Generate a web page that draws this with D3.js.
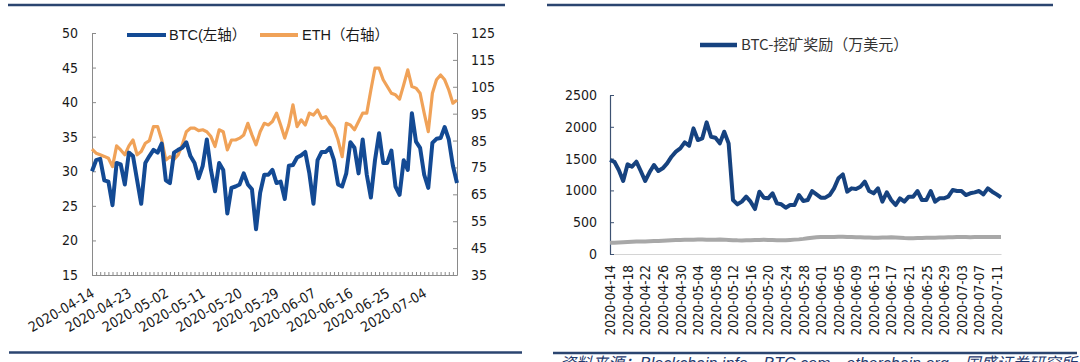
<!DOCTYPE html>
<html>
<head>
<meta charset="utf-8">
<script src="https://cdn.jsdelivr.net/npm/d3@7"></script>
<style>
  body { margin: 0; background: #fff; }
  svg { display: block; }
</style>
</head>
<body>
<div id="chart"></div>
<script>
// ---- data ----
var startDate = "2020-04-14";

// left chart: daily values, 2020-04-14 .. 2020-07-12
var btcValues = [30.0, 31.6, 31.8, 28.7, 28.5, 25.1, 31.2, 31.0, 28.1, 32.7,
  32.2, 28.7, 25.3, 31.2, 32.2, 33.1, 32.7, 34.0, 28.7, 28.3,
  32.7, 33.1, 33.4, 34.2, 32.2, 31.2, 29.0, 30.8, 34.6, 30.2,
  27.1, 31.2, 30.2, 23.9, 27.6, 27.8, 28.1, 29.7, 28.1, 27.4,
  21.6, 26.9, 29.5, 29.5, 30.2, 28.3, 28.5, 26.0, 30.8, 30.9,
  32.0, 32.3, 32.8, 29.7, 25.3, 31.6, 32.8, 32.8, 33.4, 31.6,
  28.1, 27.8, 29.7, 34.2, 33.4, 29.7, 34.6, 29.5, 26.2, 31.6,
  35.5, 31.2, 31.2, 33.0, 27.8, 26.6, 31.6, 30.2, 38.4, 34.3,
  33.4, 29.5, 27.6, 34.1, 34.7, 34.8, 36.4, 34.6, 30.8, 28.3];

var ethValues = [81.8, 80.3, 79.7, 79.1, 78.4, 75.3, 83.0, 81.5, 79.7, 83.0,
  85.2, 79.7, 80.9, 84.0, 85.0, 90.2, 90.2, 85.2, 77.8, 79.0,
  78.0, 79.7, 83.4, 88.3, 89.6, 89.6, 88.7, 89.0, 88.3, 86.5,
  82.8, 89.0, 88.3, 81.5, 85.2, 85.2, 85.9, 87.1, 91.4, 87.1,
  83.4, 88.3, 91.4, 90.8, 92.1, 95.2, 90.8, 85.9, 90.8, 98.3,
  90.2, 92.7, 90.8, 95.2, 94.5, 96.4, 93.3, 93.9, 91.4, 89.6,
  85.2, 79.0, 91.4, 90.8, 89.0, 92.1, 95.2, 95.2, 103.8, 111.9,
  111.9, 107.6, 105.1, 102.6, 102.0, 100.4, 105.7, 111.3, 105.1, 104.5,
  102.6, 95.2, 88.3, 102.6, 107.6, 109.4, 107.6, 103.8, 98.9, 100.1];

// right chart: mining reward (10k USD)
var rewardValues = [1478, 1450, 1320, 1148, 1410, 1373, 1451, 1305, 1148, 1284,
  1399, 1305, 1347, 1425, 1530, 1609, 1661, 1755, 1703, 1975,
  1792, 1818, 2070, 1844, 1829, 1740, 1923, 1740, 849, 781,
  823, 901, 823, 707, 980, 886, 875, 954, 796, 781,
  728, 770, 770, 927, 833, 849, 990, 938, 886, 886,
  927, 1032, 1190, 1252, 980, 1032, 1022, 1058, 1137, 990,
  954, 1032, 823, 969, 849, 770, 875, 823, 901, 901,
  990, 849, 849, 990, 823, 875, 875, 901, 1006, 990,
  990, 927, 954, 969, 990, 938, 1032, 980, 938, 890];

var grayValues = [175, 178, 182, 186, 190, 192, 195, 197, 198, 200,
  203, 206, 210, 214, 218, 220, 222, 224, 225, 226,
  228, 228, 226, 224, 225, 228, 226, 222, 218, 215,
  214, 216, 218, 220, 222, 224, 222, 220, 218, 216,
  218, 222, 226, 230, 238, 248, 256, 262, 266, 268,
  268, 268, 270, 270, 268, 266, 264, 262, 260, 258,
  256, 256, 258, 260, 262, 258, 254, 250, 248, 248,
  250, 252, 254, 254, 256, 258, 260, 262, 264, 266,
  266, 266, 265, 266, 268, 268, 268, 266, 266, 266];

var leftTickLabels = ["2020-04-14", "2020-04-23", "2020-05-02", "2020-05-11", "2020-05-20",
  "2020-05-29", "2020-06-07", "2020-06-16", "2020-06-25", "2020-07-04"];
var rightTickLabels = ["2020-04-14", "2020-04-18", "2020-04-22", "2020-04-26", "2020-04-30",
  "2020-05-04", "2020-05-08", "2020-05-12", "2020-05-16", "2020-05-20", "2020-05-24",
  "2020-05-28", "2020-06-01", "2020-06-05", "2020-06-09", "2020-06-13", "2020-06-17",
  "2020-06-21", "2020-06-25", "2020-06-29", "2020-07-03", "2020-07-07", "2020-07-11"];
var leftAxisTicks = [15, 20, 25, 30, 35, 40, 45, 50];
var rightAxisTicks = [35, 45, 55, 65, 75, 85, 95, 105, 115, 125];
var rewardTicks = [0, 500, 1000, 1500, 2000, 2500];

var sourceText = "资料来源：Blockchain.info、BTC.com、etherchain.org、国盛证券研究所";

// ---- setup ----
var parse = d3.timeParse("%Y-%m-%d");
var fmt = d3.timeFormat("%Y-%m-%d");
var t0 = parse(startDate);
var dates = btcValues.map(function(d, i) { return d3.timeDay.offset(t0, i); });
var tEnd = dates[dates.length - 1];

var tickFont = "'DejaVu Sans Condensed', 'DejaVu Sans', sans-serif";

var svg = d3.select("#chart").append("svg")
  .attr("width", 1080)
  .attr("height", 362);

svg.append("rect").attr("width", 1080).attr("height", 362).attr("fill", "#fff");

var ruleColor = "#2b4570";
function rule(x1, x2, y) {
  svg.append("line").attr("x1", x1).attr("x2", x2).attr("y1", y).attr("y2", y)
    .attr("stroke", ruleColor).attr("stroke-width", 2.5);
}
rule(8, 505, 5);
rule(547, 1053, 5);
rule(9, 522, 352.5);
rule(553, 1077, 353);

// ================= left chart =================
var xL = d3.scaleTime().domain([t0, tEnd]).range([92, 457]);
var yL = d3.scaleLinear().domain([15, 50]).range([275, 33]);
var yR = d3.scaleLinear().domain([35, 125]).range([275, 33]);

var axisColor = "#8a8a8a";

// minor day ticks
var gMinor = svg.append("g").attr("transform", "translate(0,275)")
  .call(d3.axisBottom(xL).tickValues(dates).tickSize(-3).tickSizeOuter(0).tickFormat(""));
gMinor.selectAll("line").attr("stroke", axisColor);
gMinor.select(".domain").attr("stroke", axisColor);

var gXL = svg.append("g").attr("transform", "translate(0,275)")
  .call(d3.axisBottom(xL).tickValues(leftTickLabels.map(parse)).tickSize(0).tickFormat(fmt));
gXL.select(".domain").remove();
gXL.selectAll("text")
  .attr("x", 0).attr("y", 0).attr("dy", null)
  .attr("text-anchor", "end")
  .attr("transform", "translate(3,21) rotate(-30)")
  .attr("fill", "#1a1a1a")
  .style("font-family", tickFont)
  .style("font-size", "14px");

var gYL = svg.append("g").attr("transform", "translate(92,0)")
  .call(d3.axisLeft(yL).tickValues(leftAxisTicks).tickSize(-4).tickSizeOuter(0).tickPadding(14));
var gYR = svg.append("g").attr("transform", "translate(457,0)")
  .call(d3.axisRight(yR).tickValues(rightAxisTicks).tickSize(-4).tickSizeOuter(0).tickPadding(14));
[gYL, gYR].forEach(function(g) {
  g.select(".domain").attr("stroke", axisColor);
  g.selectAll("line").attr("stroke", axisColor);
  g.selectAll("text").attr("fill", "#1a1a1a")
    .style("font-family", tickFont).style("font-size", "14px");
});

var ethLine = d3.line().x(function(d, i) { return xL(dates[i]); }).y(function(d) { return yR(d); });
var btcLine = d3.line().x(function(d, i) { return xL(dates[i]); }).y(function(d) { return yL(d); });

svg.append("path").datum(ethValues).attr("d", ethLine)
  .attr("fill", "none").attr("stroke", "#f0a258").attr("stroke-width", 3.2)
  .attr("stroke-linejoin", "round");
svg.append("path").datum(btcValues).attr("d", btcLine)
  .attr("fill", "none").attr("stroke", "#134a94").attr("stroke-width", 4)
  .attr("stroke-linejoin", "round");

// legend
var legFont = "'Liberation Sans', 'Noto Sans CJK SC', sans-serif";
svg.append("line").attr("x1", 127).attr("x2", 166).attr("y1", 35).attr("y2", 35)
  .attr("stroke", "#134a94").attr("stroke-width", 4);
svg.append("text").attr("x", 169).attr("y", 40).text("BTC(左轴）")
  .style("font-family", legFont).style("font-size", "14.5px").attr("fill", "#1a1a1a");
svg.append("line").attr("x1", 260).attr("x2", 298).attr("y1", 35).attr("y2", 35)
  .attr("stroke", "#f0a258").attr("stroke-width", 4);
svg.append("text").attr("x", 302).attr("y", 40).text("ETH（右轴）")
  .style("font-family", legFont).style("font-size", "14.5px").attr("fill", "#1a1a1a");

// ================= right chart =================
var x2 = d3.scaleTime().domain([t0, tEnd]).range([610, 1001]);
var y2 = d3.scaleLinear().domain([0, 2500]).range([254, 95]);

var gX2 = svg.append("g").attr("transform", "translate(0,254)")
  .call(d3.axisBottom(x2).tickValues(rightTickLabels.map(parse)).tickSize(0).tickSizeOuter(0).tickFormat(fmt));
gX2.select(".domain").attr("stroke", "#d4d4d4").attr("stroke-width", 1.2);
gX2.selectAll("text")
  .attr("x", 0).attr("y", 0).attr("dy", "0.35em")
  .attr("text-anchor", "end")
  .attr("transform", "translate(0,11) rotate(-90)")
  .attr("fill", "#1a1a1a")
  .style("font-family", tickFont)
  .style("font-size", "13.5px");

var gY2 = svg.append("g").attr("transform", "translate(610,0)")
  .call(d3.axisLeft(y2).tickValues(rewardTicks).tickSize(-4).tickSizeOuter(0).tickPadding(13)
    .tickFormat(d3.format("d")));
gY2.select(".domain").attr("stroke", "#3d5272").attr("stroke-width", 1.2);
gY2.selectAll("line").attr("stroke", "#3d5272");
gY2.selectAll("text").attr("fill", "#1a1a1a")
  .style("font-family", tickFont).style("font-size", "14px");

var rLine = d3.line().x(function(d, i) { return x2(dates[i]); }).y(function(d) { return y2(d); });
svg.append("path").datum(grayValues).attr("d", rLine)
  .attr("fill", "none").attr("stroke", "#a8a8a8").attr("stroke-width", 4)
  .attr("stroke-linejoin", "round");
svg.append("path").datum(rewardValues).attr("d", rLine)
  .attr("fill", "none").attr("stroke", "#16427f").attr("stroke-width", 4)
  .attr("stroke-linejoin", "round");

svg.append("line").attr("x1", 700).attr("x2", 737).attr("y1", 45).attr("y2", 45)
  .attr("stroke", "#16427f").attr("stroke-width", 4.5);
svg.append("text").attr("x", 741).attr("y", 50).text("BTC-挖矿奖励（万美元）")
  .style("font-family", "'Noto Sans CJK SC', sans-serif").style("font-size", "15px").attr("fill", "#333");

// source note (cut off by the bottom edge, as in the original)
svg.append("text").attr("x", 560).attr("y", 369).text(sourceText)
  .style("font-family", "'Liberation Sans', 'Noto Sans CJK SC', sans-serif")
  .style("font-style", "italic").style("font-size", "16px").attr("fill", "#1f3a6e");
</script>
</body>
</html>
